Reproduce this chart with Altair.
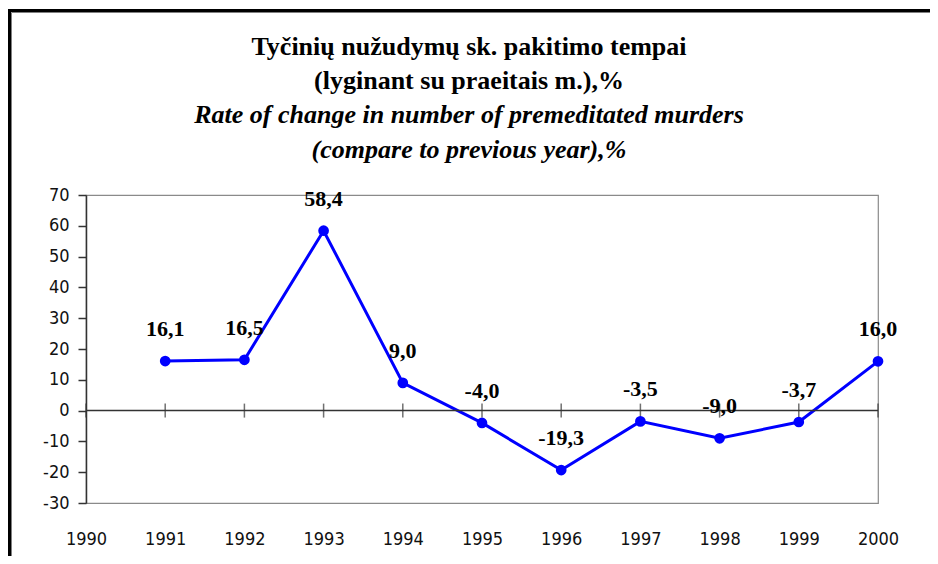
import altair as alt
import pandas as pd

years = [1991, 1992, 1993, 1994, 1995, 1996, 1997, 1998, 1999, 2000]
values = [16.1, 16.5, 58.4, 9.0, -4.0, -19.3, -3.5, -9.0, -3.7, 16.0]
labels = ["16,1", "16,5", "58,4", "9,0", "-4,0", "-19,3", "-3,5", "-9,0", "-3,7", "16,0"]
axis_years = [1990, 1991, 1992, 1993, 1994, 1995, 1996, 1997, 1998, 1999, 2000]
y_ticks = [-30, -20, -10, 0, 10, 20, 30, 40, 50, 60, 70]

title_lines = ["Tyčinių nužudymų sk. pakitimo tempai", "(lyginant su praeitais m.),%"]
subtitle_lines = ["Rate of change in number of premeditated murders", "(compare to previous year),%"]

df = pd.DataFrame({"year": years, "value": values, "label": labels})
ticks_df = pd.DataFrame({"year": axis_years})
one_row = pd.DataFrame({"k": [0]})

xscale = alt.Scale(domain=[1990, 2000], nice=False, zero=False)
yscale = alt.Scale(domain=[-30, 70], nice=False, zero=False)

AXIS_FONT = "DejaVu Sans Condensed"

x_axis = alt.Axis(values=axis_years, labelExpr="'' + datum.value", title=None,
                  domain=False, ticks=False, grid=False, labelPadding=27,
                  labelFlush=False, labelOverlap=False,
                  labelFont=AXIS_FONT, labelFontSize=18, labelColor="#111111")
y_axis = alt.Axis(values=y_ticks, tickCount=11, labelExpr="'' + datum.value",
                  title=None, grid=False, domainColor="#333333", domainWidth=1.5,
                  tickColor="#333333", tickWidth=1.5, tickSize=8,
                  labelPadding=9, labelOverlap=False, labelFlush=False,
                  labelFont=AXIS_FONT, labelFontSize=18, labelColor="#111111")

x_enc = alt.X("year:Q", scale=xscale, axis=x_axis)
y_enc = alt.Y("value:Q", scale=yscale, axis=y_axis)

base = alt.Chart(df)
single = alt.Chart(one_row)

frame = single.mark_rect(fill="white", fillOpacity=0, stroke="black", strokeWidth=3).encode(
    x=alt.value(-76.5), x2=alt.value(900), y=alt.value(-184.5), y2=alt.value(700)
)
frame_inner = single.mark_rect(fill="white", fillOpacity=0, stroke="#808080", strokeWidth=1).encode(
    x=alt.value(-74.5), x2=alt.value(900), y=alt.value(-182.5), y2=alt.value(700)
)

title_main = single.mark_text(text=title_lines, font="Liberation Serif", fontWeight="bold",
                              fontSize=26, lineHeight=34, align="center", baseline="alphabetic",
                              color="black").encode(x=alt.value(383), y=alt.value(-140.5))
title_sub = single.mark_text(text=subtitle_lines, font="Liberation Serif", fontWeight="bold",
                             fontStyle="italic", fontSize=26, lineHeight=34.5, align="center",
                             baseline="alphabetic", color="black").encode(
    x=alt.value(383), y=alt.value(-72))

line = base.mark_line(color="#0000FF", strokeWidth=3).encode(x=x_enc, y=y_enc)

zero_line = single.mark_rule(color="#333333", strokeWidth=1.5).encode(
    y=alt.Y(datum=0, scale=yscale, axis=y_axis))

zero_ticks = alt.Chart(ticks_df).mark_tick(color="#333333", thickness=1.5, size=14,
                                           orient="vertical").encode(
    x=x_enc, y=alt.Y(datum=0, scale=yscale, axis=y_axis)
)

points = base.mark_circle(color="#0000FF", size=115, opacity=1).encode(x=x_enc, y=y_enc)
text = base.mark_text(font="Liberation Serif", fontWeight="bold", fontSize=22,
                      baseline="alphabetic", dy=-25, color="black").encode(
    x=x_enc, y=y_enc, text="label:N"
)

chart = alt.layer(line, frame, frame_inner, title_main, title_sub, zero_line, zero_ticks,
                  points, text).properties(
    width=792, height=308,
    autosize=alt.AutoSizeParams(type="none"),
    padding={"left": 78, "top": 187, "right": 52, "bottom": 53},
).configure(
    background="white",
    view=alt.ViewConfig(stroke="#8a8a8a", strokeWidth=1.2),
)

chart.save("out.html", embed_options={"renderer": "svg", "actions": False})
